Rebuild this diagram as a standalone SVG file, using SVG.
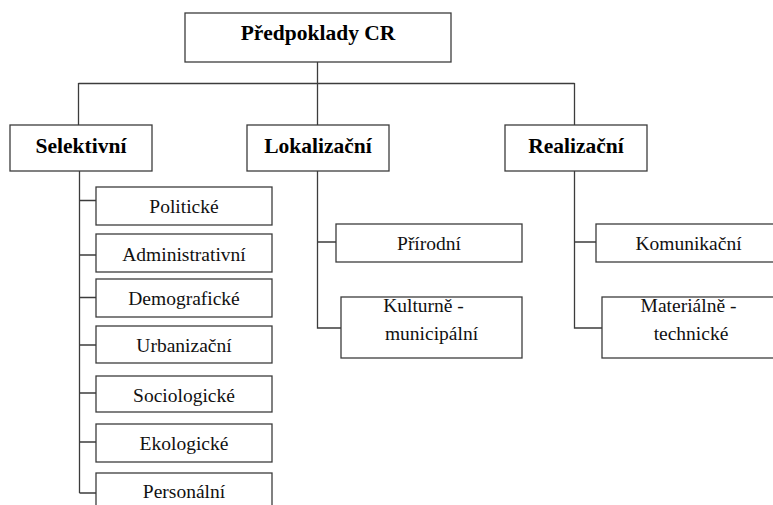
<svg xmlns="http://www.w3.org/2000/svg" width="773" height="505" viewBox="0 0 773 505">
<style>
.box{fill:#fff;stroke:#3c3c3c;stroke-width:1.3}
.ln{fill:none;stroke:#3c3c3c;stroke-width:1.3}
.b{font-family:"Liberation Serif","Times New Roman",serif;font-weight:bold;font-size:21.5px;fill:#000;text-anchor:middle}
.t{font-family:"Liberation Serif","Times New Roman",serif;font-size:19.5px;fill:#111;text-anchor:middle}
</style>
<rect width="773" height="505" fill="#fff"/>
<g id="connectors">
<path class="ln" d="M317.5,62 V125 M78.5,83.5 H574.5 M78.5,83 V125 M574.5,83 V125"/>
<path class="ln" d="M79.5,171 V493 M79.5,200.5 H96 M79.5,255 H96 M79.5,297.5 H96 M79.5,345 H96 M79.5,393 H96 M79.5,442 H96 M79.5,493 H96"/>
<path class="ln" d="M317.5,171 V328 H341 M317.5,242 H336"/>
<path class="ln" d="M574.5,171 V328 H602 M574.5,242 H596"/>
</g>
<g id="root"><rect class="box" x="185" y="13" width="266" height="49"/><text class="b" x="318" y="40">Předpoklady CR</text></g>
<g id="selektivni"><rect class="box" x="10" y="125" width="142" height="46"/><text class="b" x="81" y="153">Selektivní</text></g>
<g id="lokalizacni"><rect class="box" x="247" y="125" width="142" height="46"/><text class="b" x="318" y="153">Lokalizační</text></g>
<g id="realizacni"><rect class="box" x="505" y="125" width="142" height="46"/><text class="b" x="576" y="153">Realizační</text></g>
<g id="politicke"><rect class="box" x="96" y="187" width="176" height="38"/><text class="t" x="184" y="213">Politické</text></g>
<g id="administrativni"><rect class="box" x="96" y="234" width="176" height="38"/><text class="t" x="184" y="261">Administrativní</text></g>
<g id="demograficke"><rect class="box" x="96" y="279" width="176" height="38"/><text class="t" x="184" y="305">Demografické</text></g>
<g id="urbanizacni"><rect class="box" x="96" y="326" width="176" height="37"/><text class="t" x="184" y="352">Urbanizační</text></g>
<g id="sociologicke"><rect class="box" x="96" y="376" width="176" height="36"/><text class="t" x="184" y="402">Sociologické</text></g>
<g id="ekologicke"><rect class="box" x="96" y="424" width="176" height="38"/><text class="t" x="184" y="450">Ekologické</text></g>
<g id="personalni"><rect class="box" x="96" y="473" width="176" height="40"/><text class="t" x="184" y="498">Personální</text></g>
<g id="prirodni"><rect class="box" x="336" y="224" width="186" height="38"/><text class="t" x="429" y="250">Přírodní</text></g>
<g id="kulturne"><rect class="box" x="341" y="297" width="181" height="61"/><text class="t" x="423.5" y="312">Kulturně -</text><text class="t" x="431.5" y="340">municipální</text></g>
<g id="komunikacni"><rect class="box" x="596" y="224" width="190" height="38"/><text class="t" x="688.5" y="250">Komunikační</text></g>
<g id="materialne"><rect class="box" x="602" y="297" width="184" height="61"/><text class="t" x="688.5" y="312">Materiálně -</text><text class="t" x="691" y="340">technické</text></g>
</svg>
